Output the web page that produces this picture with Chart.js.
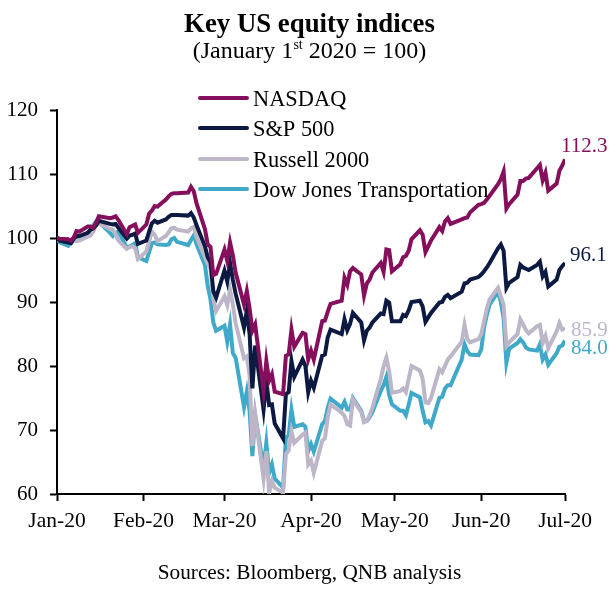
<!DOCTYPE html>
<html>
<head>
<meta charset="utf-8">
<title>Key US equity indices</title>
<style>
  body { margin: 0; background: #fff; font-family: "Liberation Serif", serif; color: #000; }
  #wrap { position: relative; width: 616px; height: 590px; overflow: hidden; }
  #chart { position: absolute; left: 0; top: 0; }
  .txt { position: absolute; left: 0; width: 619px; text-align: center; white-space: nowrap; }
  #title { top: 8px; font-size: 26.8px; font-weight: bold; line-height: 30px; }
  #subtitle { top: 37px; font-size: 24px; line-height: 26px; }
  #subtitle sup { font-size: 14px; line-height: 0; }
  #source { top: 560px; font-size: 21.3px; line-height: 24px; }
</style>
</head>
<body>
<div id="wrap">
  <canvas id="chart" width="616" height="590"></canvas>
  <div class="txt" id="title">Key US equity indices</div>
  <div class="txt" id="subtitle">(January 1<sup>st</sup> 2020 = 100)</div>
  <div class="txt" id="source">Sources: Bloomberg, QNB analysis</div>
</div>
<script src="https://cdn.jsdelivr.net/npm/chart.js@4"></script>
<script>
// days since January 1st of each reading
const days = [
  0, 1, 4, 5, 6, 7, 8, 11, 12, 13, 14, 15, 19, 20, 21, 22, 25, 26, 27, 28, 29,
  32, 33, 34, 35, 36, 39, 40, 41, 42, 43, 47, 48, 49, 50, 53, 54, 55, 56, 57,
  60, 61, 62, 63, 64, 67, 68, 69, 70, 71, 74, 75, 76, 77, 78, 81, 82, 83, 84, 85, 88, 89, 90,
  91, 92, 95, 96, 97, 98, 102, 103, 104, 105, 106, 109, 110, 111, 112, 113, 116, 117, 118, 119, 120,
  123, 124, 125, 126, 127, 130, 131, 132, 133, 134, 137, 138, 139, 140, 141, 145, 146, 147, 148,
  151, 152, 153, 154, 155, 158, 159, 160, 161, 162, 165, 166, 167, 168, 169, 172, 173, 174, 175, 176, 179, 180, 181, 182
];

const nasdaq = [
  100, 99.9, 99.8, 99.6, 100.1, 101.1, 101, 101.8, 101.8, 101.6, 102.4, 103.4, 103.1, 103.2, 103.4, 102.8, 100.6, 101.7, 101.9, 102.1, 100.8,
  102.1, 103.8, 104.3, 105, 104.9, 106, 106.5, 106.9, 107, 107, 107.1, 108, 107.3, 105.4, 101.4, 99, 98.6, 94.2, 94.4,
  98.2, 96.4, 99.3, 97.3, 94.6, 89.6, 91.7, 89, 85.5, 86.5, 76.1, 80.8, 77.7, 78.7, 76, 75.6, 81.6, 81.8, 85.7, 83, 85.2, 85, 81,
  82.4, 81, 87, 87.1, 88.5, 89.7, 90.2, 93.8, 92.7, 94.8, 95.3, 94.3, 91, 92.9, 93.5, 94.6, 96.1, 94.7, 98.2, 98.1, 94.8,
  95.9, 97, 97.2, 98, 99.8, 101.2, 100.5, 97.8, 98.7, 99.6, 101.7, 101.1, 102.6, 103.1, 102.2, 102.9, 103.1, 103.2, 104,
  105.2, 105.3, 105.5, 106, 106.6, 108.4, 109.2, 110.4, 104.6, 105.3, 106.8, 108.9, 108.9, 109.3, 109.4, 110.9, 111.4, 109, 110.2, 107.4, 108.5, 110.5, 111.3, 112.3
];

const sp500 = [
  100, 99.6, 99.3, 99.2, 99.9, 100.3, 100.3, 100.8, 101.3, 101.5, 102, 102.7, 102.2, 102.1, 102.2, 101.6, 99.9, 100.4, 100.5, 100.7, 99.1,
  99.6, 101, 102.3, 102.7, 102.4, 102.9, 103.3, 103.6, 103.6, 103.6, 103.5, 103.9, 103.2, 102, 98.7, 97, 96.2, 91.7, 90.7,
  94.9, 93.2, 96.1, 93.5, 91.3, 86, 88.6, 85, 76.5, 83.2, 73.2, 77.7, 73.9, 74, 71, 68.7, 75.6, 75.9, 80.8, 78.3, 81, 80, 75.9,
  77.7, 76.6, 81.6, 81.8, 84.5, 85.7, 85, 87.3, 85.6, 86.6, 88.3, 86.8, 84, 85.5, 86, 86.8, 88.2, 88.1, 90.2, 89.9, 87,
  87, 88, 87.8, 88.7, 90, 90.2, 89.3, 86.9, 87.6, 88.3, 89.9, 90, 90.8, 91.1, 90.6, 91.6, 92.9, 93, 93.5,
  93.9, 94.3, 94.8, 95.4, 96.1, 98.4, 99, 98, 92.2, 93, 93.9, 95.8, 95.4, 95.2, 95, 95.8, 96.3, 94, 94.7, 92.4, 93.5, 95, 95.6, 96.1
];

const russell = [
  100, 99.8, 99.7, 99.7, 99.6, 99.5, 99.6, 100.2, 100.4, 101, 102, 102.3, 101.4, 101.3, 100.6, 99.6, 98.3, 98.6, 98.7, 98.4, 96.7,
  97.9, 99.5, 101, 100.5, 99.5, 100.3, 100.9, 101.5, 101.6, 101.3, 101, 101.5, 101.7, 100.2, 97, 96, 95.2, 90.5, 88.6,
  90.9, 89.5, 91.9, 89.6, 86.7, 81.2, 81.5, 78.5, 67.5, 72.4, 62.4, 66.7, 60.2, 62, 61, 60.2, 66.2, 66.8, 69.8, 68, 69.3, 69.6, 64.6,
  65.2, 63.3, 68.3, 68.7, 72, 74, 72.7, 72.2, 70.9, 70.7, 74.8, 72.8, 71.2, 71.4, 72.3, 73.5, 78, 79.9, 81.3, 79.2, 75.8,
  76.1, 76.5, 75.9, 78, 80, 79.3, 78, 74.3, 74.2, 75, 79.5, 79, 80, 81, 81.5, 83.8, 86.4, 84.2, 83.7,
  84.2, 85, 87, 89, 90.4, 92.2, 90.9, 89.6, 83.1, 83.7, 85, 87.3, 86.5, 85.6, 85.1, 86.2, 86.4, 83.6, 84.7, 82.8, 85.4, 86.7, 85.7, 85.9
];

const dowTransport = [
  100, 99.3, 98.8, 99.5, 100, 100.1, 99.8, 100.8, 101.1, 102, 102.6, 102.5, 100.8, 100.3, 100.8, 101, 98.5, 98.7, 98.9, 99.2, 97,
  96.4, 97.8, 99.2, 99.3, 99, 98.9, 99, 99.8, 100, 99.4, 98.9, 99.7, 100.4, 99, 95.8, 92.5, 90.4, 86.8, 85.5,
  86.3, 83.8, 86.5, 82, 81.3, 73.6, 76, 73, 65.9, 72.4, 64.1, 68, 63.3, 64.6, 62.4, 61, 68.8, 69.2, 73.2, 70.5, 70.9, 70.5, 66.7,
  67.8, 66.6, 70.9, 71.4, 73.5, 74.9, 73.5, 74.4, 73.2, 73.2, 75, 73, 71.4, 71.4, 72, 72.8, 76.1, 77, 78.3, 75.5, 74,
  73, 73, 72.3, 74, 75.8, 75.1, 73, 71.2, 71.4, 70.7, 75, 75.2, 76.5, 77, 77, 81, 83.4, 82.3, 81.8,
  81.7, 82.6, 86, 88, 89.6, 91.6, 90, 87.5, 80.5, 82.7, 83.6, 84.2, 83.7, 82.9, 82.6, 82.4, 83.4, 81, 81.8, 80.2, 82, 83, 83.2, 84
];

const seriesNames = ['NASDAQ', 'S&P 500', 'Russell 2000', 'Dow Jones Transportation'];
const seriesValues = [nasdaq, sp500, russell, dowTransport];
const seriesColors = ['#850f5c', '#0c1a42', '#bdb6c8', '#3fa9c9'];
const endLabels = ['112.3', '96.1', '85.9', '84.0'];

const monthDays = [0, 31, 60, 91, 121, 152, 182];
const monthLabels = ['Jan-20', 'Feb-20', 'Mar-20', 'Apr-20', 'May-20', 'Jun-20', 'Jul-20'];

const font = '"Liberation Serif", serif';

// end of line values, next to the last point of each series
const endLabelPlugin = {
  id: 'endLabels',
  afterDatasetsDraw(chart) {
    const { ctx, scales } = chart;
    const offsets = [[-4, -13], [5, -7], [6, 2], [6, 8]];
    ctx.save();
    ctx.font = '21px ' + font;
    ctx.textBaseline = 'middle';
    endLabels.forEach((label, i) => {
      const values = seriesValues[i];
      const x = scales.x.getPixelForValue(days[days.length - 1]);
      const y = scales.y.getPixelForValue(values[values.length - 1]);
      ctx.fillStyle = seriesColors[i];
      ctx.fillText(label, x + offsets[i][0], y + offsets[i][1]);
    });
    ctx.restore();
  }
};

// legend sits over the plot, so it is placed by hand
const legendPlugin = {
  id: 'plotLegend',
  afterDatasetsDraw(chart) {
    const { ctx } = chart;
    const rows = [98, 128, 159, 189];
    ctx.save();
    ctx.font = '22.4px ' + font;
    ctx.textBaseline = 'middle';
    ctx.lineCap = 'round';
    ctx.lineWidth = 4;
    seriesNames.forEach((name, i) => {
      ctx.strokeStyle = seriesColors[i];
      ctx.beginPath();
      ctx.moveTo(200, rows[i]);
      ctx.lineTo(247, rows[i]);
      ctx.stroke();
      ctx.fillStyle = '#000';
      ctx.fillText(name, 253, rows[i] + 2);
    });
    ctx.restore();
  }
};

new Chart(document.getElementById('chart').getContext('2d'), {
  type: 'line',
  data: {
    datasets: seriesNames.map((name, i) => ({
      label: name,
      data: days.map((d, j) => ({ x: d, y: seriesValues[i][j] })),
      borderColor: seriesColors[i],
      borderWidth: 4,
      pointRadius: 0,
      tension: 0
    }))
  },
  options: {
    responsive: false,
    animation: false,
    devicePixelRatio: 1,
    layout: { padding: { top: 110, right: 51, left: 0, bottom: 0 } },
    plugins: { legend: { display: false }, tooltip: { enabled: false } },
    scales: {
      x: {
        type: 'linear',
        min: 0,
        max: 182,
        afterBuildTicks(axis) {
          axis.ticks = monthDays.map(v => ({ value: v }));
        },
        afterFit(axis) {
          axis.height = 96;
        },
        border: { color: '#000', width: 2 },
        grid: { drawOnChartArea: false, tickColor: '#000', tickLength: 7, tickWidth: 2 },
        ticks: {
          autoSkip: false,
          maxRotation: 0,
          padding: 7,
          color: '#000',
          font: { family: font, size: 21.5 },
          callback: v => monthLabels[monthDays.indexOf(v)]
        }
      },
      y: {
        min: 60,
        max: 120,
        afterFit(axis) {
          axis.width = 57;
        },
        border: { color: '#000', width: 2 },
        grid: { drawOnChartArea: false, tickColor: '#000', tickLength: 7, tickWidth: 2 },
        ticks: {
          stepSize: 10,
          padding: 12,
          color: '#000',
          font: { family: font, size: 21 }
        }
      }
    }
  },
  plugins: [endLabelPlugin, legendPlugin]
});
</script>
</body>
</html>
